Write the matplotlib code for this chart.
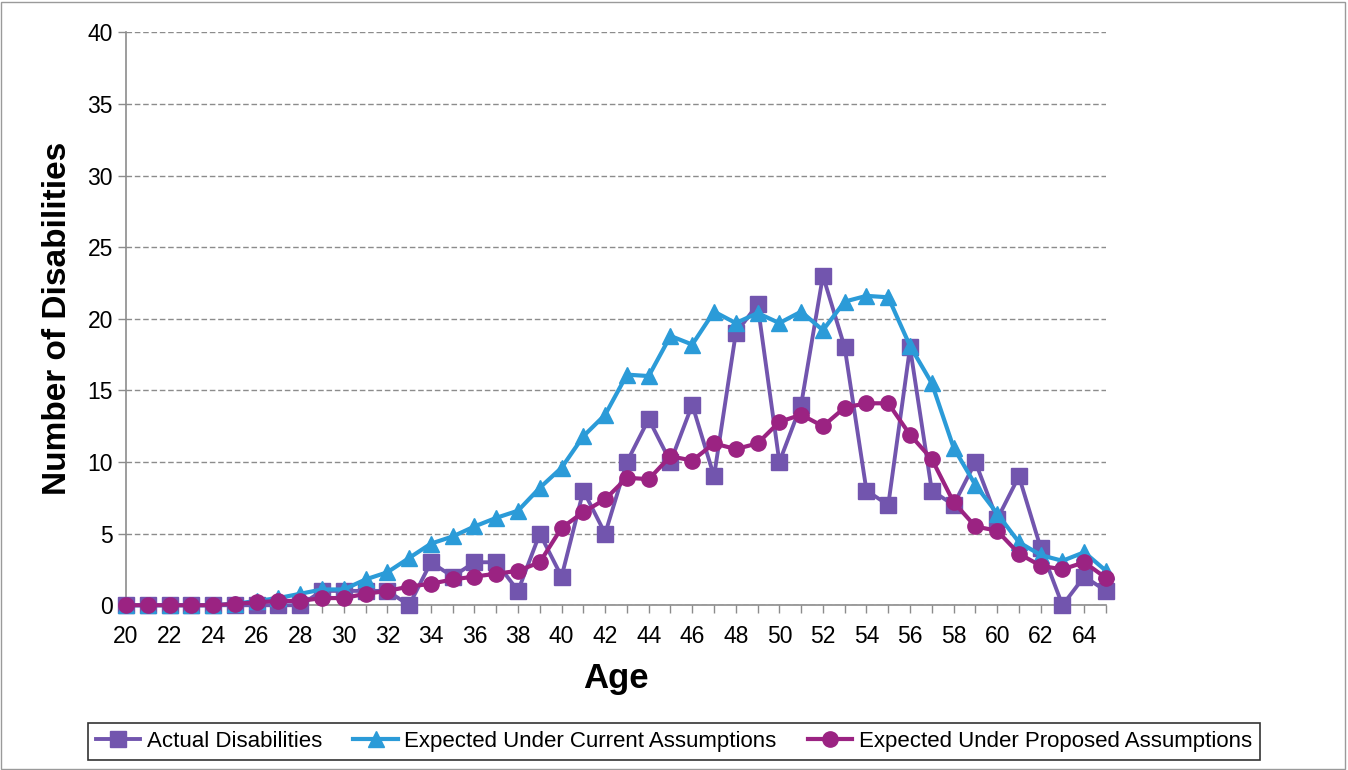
import matplotlib
matplotlib.use("Agg")
import matplotlib.pyplot as plt
from matplotlib.patches import Rectangle

plt.rcParams['font.family'] = ['Liberation Sans', 'DejaVu Sans']

ages = list(range(20, 66))

actual = [0, 0, 0, 0, 0, 0, 0, 0, 0, 1, 1, 1, 1, 0, 3, 2, 3, 3, 1, 5,
          2, 8, 5, 10, 13, 10, 14, 9, 19, 21, 10, 14, 23, 18, 8, 7, 18, 8, 7, 10,
          6, 9, 4, 0, 2, 1]

current = [0, 0, 0, 0, 0, 0.1, 0.3, 0.5, 0.8, 1.1, 1.1, 1.8, 2.3, 3.3, 4.3, 4.8, 5.5, 6.1, 6.6, 8.2,
           9.6, 11.8, 13.3, 16.1, 16.0, 18.8, 18.2, 20.5, 19.7, 20.4, 19.7, 20.5, 19.2, 21.2, 21.6, 21.5, 18.1, 15.5, 11.0, 8.4,
           6.4, 4.4, 3.5, 3.1, 3.7, 2.4]

proposed = [0, 0, 0, 0, 0, 0.1, 0.2, 0.3, 0.3, 0.5, 0.5, 0.8, 1.0, 1.3, 1.5, 1.8, 2.0, 2.2, 2.4, 3.0,
            5.4, 6.5, 7.4, 8.9, 8.8, 10.4, 10.1, 11.3, 10.9, 11.3, 12.8, 13.3, 12.5, 13.8, 14.1, 14.1, 11.9, 10.2, 7.2, 5.5,
            5.2, 3.6, 2.75, 2.5, 3.0, 1.9]

fig = plt.figure(figsize=(13.48, 7.7), dpi=100)
ax = fig.add_axes([0.0935, 0.214, 0.727, 0.744])

ax.plot(ages, actual, color="#7255AE", lw=2.8, marker="s", ms=11,
        label="Actual Disabilities", zorder=3, clip_on=False)
ax.plot(ages, current, color="#2B9BD8", lw=3, marker="^", ms=11,
        label="Expected Under Current Assumptions", zorder=4, clip_on=False)
ax.plot(ages, proposed, color="#9B2382", lw=3, marker="o", ms=11,
        label="Expected Under Proposed Assumptions", zorder=5, clip_on=False)

ax.set_xlim(20, 65)
ax.set_ylim(0, 40)
ax.set_xticks(range(20, 66, 2))
ax.set_xticks(range(20, 66), minor=True)
ax.set_yticks(range(0, 41, 5))
ax.tick_params(axis="both", which="both", direction="out", color="#8c8c8c",
               labelsize=16.5, length=6, width=1)
ax.tick_params(axis="x", pad=8)

ax.grid(axis="y", color="#8c8c8c", linestyle=(0, (4, 2)), lw=1)
ax.set_axisbelow(True)

for side in ["top", "right"]:
    ax.spines[side].set_visible(False)
for side in ["left", "bottom"]:
    ax.spines[side].set_color("#8c8c8c")
    ax.spines[side].set_linewidth(1.2)

ax.set_xlabel("Age", fontsize=25, fontweight="bold", labelpad=10)
ax.set_ylabel("Number of Disabilities", fontsize=24, fontweight="bold", labelpad=10)

leg = fig.legend(loc="center", bbox_to_anchor=(0.5, 0.037), ncol=3, fontsize=16,
                 frameon=True, fancybox=False, edgecolor="black",
                 handlelength=2.0, columnspacing=1.4, handletextpad=0.3,
                 borderpad=0.35)
leg.get_frame().set_linewidth(1.2)

fig.patches.append(Rectangle((0.001, 0.001), 0.997, 0.997, transform=fig.transFigure,
                             fill=False, edgecolor="#9a9a9a", lw=1))

fig.savefig("out.png", dpi=100)
